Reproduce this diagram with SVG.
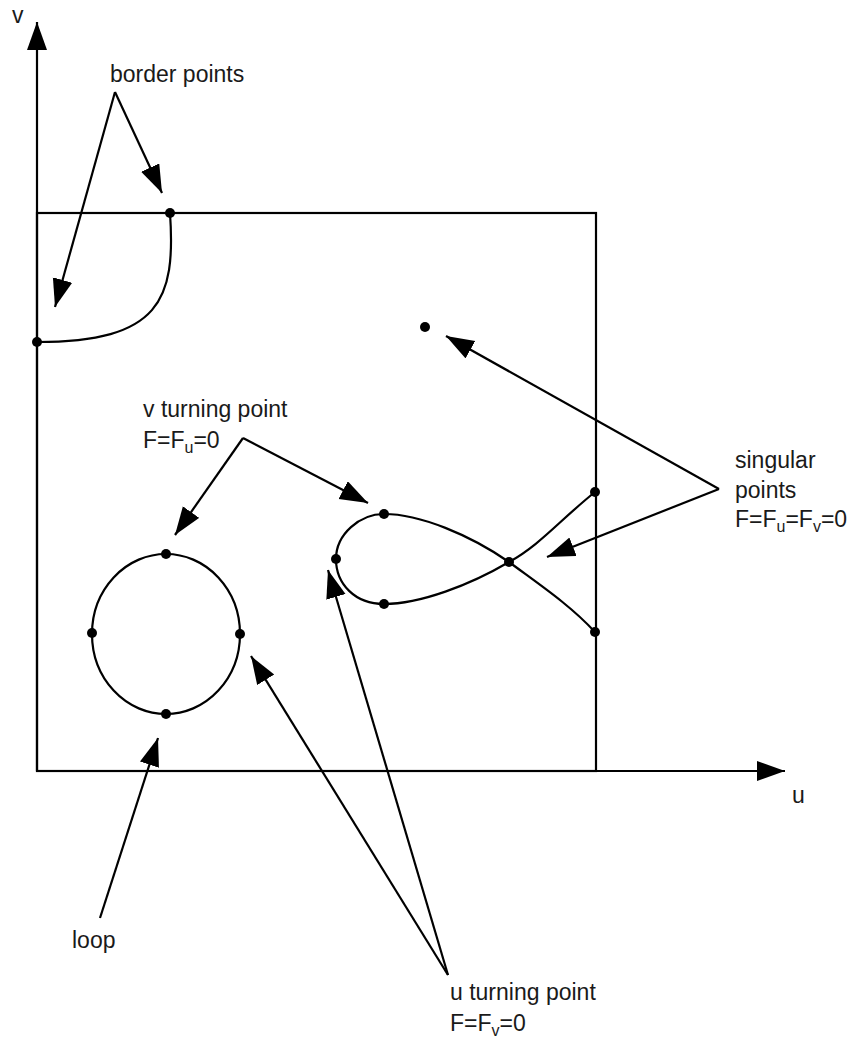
<svg xmlns="http://www.w3.org/2000/svg" width="848" height="1037" viewBox="0 0 848 1037">
<defs>
<marker id="ah" markerUnits="userSpaceOnUse" markerWidth="30" markerHeight="22" refX="28" refY="10" orient="auto">
<path d="M0,0 L28,10 L0,20 z" fill="#000"/>
</marker>
<style>
.ln{fill:none;stroke:#000;stroke-width:2.2}
.ar{fill:none;stroke:#000;stroke-width:2.2;marker-end:url(#ah)}
.dot{fill:#000}
text{font-family:"Liberation Sans",Arial,sans-serif;font-size:23px;fill:#1a1a1a}
.sub{font-size:16px}
</style>
</defs>
<rect width="848" height="1037" fill="#fff"/>
<g id="domain">
<rect x="37" y="213" width="559" height="558" class="ln"/>
</g>
<g id="axes">
<line x1="37" y1="771" x2="37" y2="22" class="ar"/>
<line x1="37" y1="771" x2="785" y2="771" class="ar"/>
<text x="12" y="23">v</text>
<text x="792" y="803">u</text>
</g>
<g id="border-curve">
<path d="M170,213 C176,300 160,342 37,342" class="ln"/>
<circle cx="170" cy="213" r="5" class="dot"/>
<circle cx="37" cy="342" r="5" class="dot"/>
</g>
<g id="isolated-point">
<circle cx="425" cy="327" r="5" class="dot"/>
</g>
<g id="fish-curve">
<path d="M595,492 C560,520 540,545 509,562 C470,585 420,604 384,604 C355,604 336,584 336,559 C336,534 360,514 384,514 C420,514 470,535 509,562 C540,585 570,605 595,632" class="ln"/>
<circle cx="384" cy="514" r="5" class="dot"/>
<circle cx="336" cy="559" r="5" class="dot"/>
<circle cx="384" cy="604" r="5" class="dot"/>
<circle cx="509" cy="562" r="5" class="dot"/>
<circle cx="595" cy="492" r="5" class="dot"/>
<circle cx="595" cy="632" r="5" class="dot"/>
</g>
<g id="loop-curve">
<ellipse cx="166" cy="634" rx="74" ry="80" class="ln"/>
<circle cx="166" cy="554" r="5" class="dot"/>
<circle cx="166" cy="714" r="5" class="dot"/>
<circle cx="92" cy="633" r="5" class="dot"/>
<circle cx="240" cy="634" r="5" class="dot"/>
</g>
<g id="label-border-points">
<text x="110" y="82">border points</text>
</g>
<g id="label-v-turning">
<text x="143" y="417">v turning point</text>
<text x="143" y="448">F=F<tspan class="sub" dy="5">u</tspan><tspan dy="-5">=0</tspan></text>
</g>
<g id="label-singular">
<text x="735" y="468">singular</text>
<text x="735" y="498">points</text>
<text x="735" y="527">F=F<tspan class="sub" dy="5">u</tspan><tspan dy="-5">=F</tspan><tspan class="sub" dy="5">v</tspan><tspan dy="-5">=0</tspan></text>
</g>
<g id="label-loop">
<text x="72" y="948">loop</text>
</g>
<g id="label-u-turning">
<text x="450" y="1000">u turning point</text>
<text x="450" y="1031">F=F<tspan class="sub" dy="5">v</tspan><tspan dy="-5">=0</tspan></text>
</g>
<g id="connectors">
<line x1="115" y1="92" x2="162" y2="193" class="ar"/>
<line x1="115" y1="92" x2="55" y2="307" class="ar"/>
<line x1="243" y1="438" x2="175" y2="535" class="ar"/>
<line x1="243" y1="438" x2="368" y2="503" class="ar"/>
<line x1="719" y1="489" x2="446" y2="336" class="ar"/>
<line x1="719" y1="489" x2="547" y2="557" class="ar"/>
<line x1="100" y1="918" x2="158" y2="738" class="ar"/>
<line x1="448" y1="975" x2="328" y2="570" class="ar"/>
<line x1="448" y1="975" x2="251" y2="656" class="ar"/>
</g>
</svg>
